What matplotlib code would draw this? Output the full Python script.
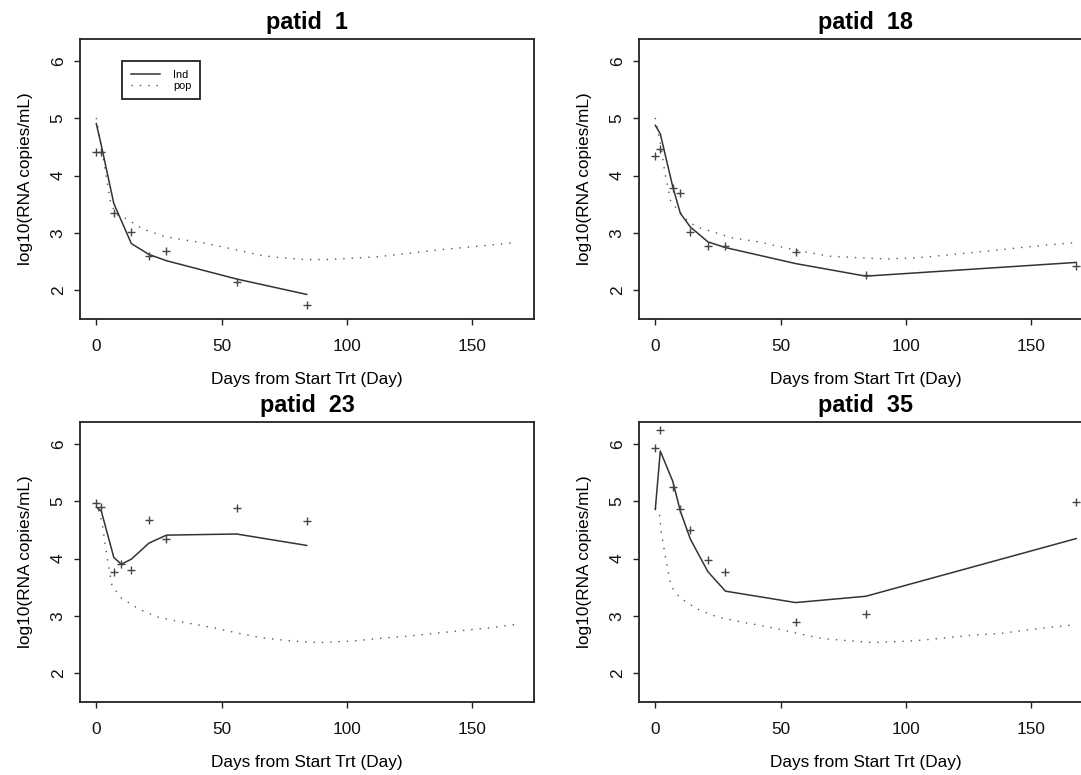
import numpy as np
import matplotlib.pyplot as plt

plt.rcParams['font.family'] = ['Liberation Sans', 'DejaVu Sans']

# observed values (+), individual fit (solid) and population fit (dotted)
p1_days = [0, 2, 7, 14, 21, 28, 56, 84]
p1_obs = [4.41, 4.41, 3.34, 3.01, 2.60, 2.68, 2.14, 1.74]
p1_ind = [4.91, 4.53, 3.51, 2.81, 2.62, 2.51, 2.19, 1.92]
p1_pop_t = [0, 2.9, 4.3, 5.6, 7.6, 12.2, 16.9, 19.5, 27.5, 44.1, 58.1, 66.1,
            72.1, 83.4, 92.0, 100.7, 112.0, 123.3, 134.6, 151.2, 163.2, 168]
p1_pop = [5.01, 4.27, 3.89, 3.56, 3.33, 3.24, 3.11, 3.05, 2.93, 2.81, 2.68, 2.60,
          2.57, 2.53, 2.53, 2.55, 2.58, 2.63, 2.69, 2.76, 2.81, 2.83]

p18_days = [0, 2, 7, 10, 14, 21, 28, 56, 84, 168]
p18_obs = [4.34, 4.46, 3.79, 3.70, 3.01, 2.76, 2.76, 2.66, 2.26, 2.42]
p18_ind = [4.88, 4.73, 3.80, 3.34, 3.10, 2.84, 2.74, 2.46, 2.24, 2.48]
p18_pop_t = [0, 2.3, 3.9, 6.2, 12.6, 16.6, 21.9, 30.6, 41.3, 47.3, 57.9, 69.3,
             77.9, 91.9, 103.9, 111.9, 125.9, 135.3, 145.9, 157.9, 163.3, 168]
p18_pop = [5.01, 4.50, 4.03, 3.54, 3.22, 3.10, 3.03, 2.91, 2.84, 2.78, 2.68, 2.59,
           2.57, 2.54, 2.56, 2.59, 2.65, 2.69, 2.74, 2.79, 2.81, 2.83]

p23_days = [0, 2, 7, 10, 14, 21, 28, 56, 84]
p23_obs = [4.97, 4.90, 3.77, 3.90, 3.80, 4.68, 4.34, 4.89, 4.66]
p23_ind = [4.90, 4.83, 4.02, 3.90, 3.99, 4.27, 4.41, 4.43, 4.23]
p23_pop_t = [0, 2.3, 4.3, 6.3, 10.0, 16.9, 24.2, 32.8, 46.8, 58.1, 66.8, 77.4,
             89.4, 103.3, 114.6, 123.9, 134.6, 143.9, 157.2, 166.2, 168]
p23_pop = [4.99, 4.63, 4.02, 3.52, 3.31, 3.12, 2.98, 2.90, 2.79, 2.68, 2.61, 2.56,
           2.53, 2.56, 2.61, 2.64, 2.69, 2.73, 2.79, 2.84, 2.85]

p35_days = [0, 2, 7, 10, 14, 21, 28, 56, 84, 168]
p35_obs = [5.94, 6.25, 5.26, 4.86, 4.50, 3.97, 3.77, 2.89, 3.03, 4.99]
p35_ind = [4.86, 5.88, 5.35, 4.83, 4.34, 3.77, 3.43, 3.23, 3.34, 4.35]
p35_pop_t = [0, 1.7, 2.3, 3.3, 4.2, 6.2, 9.9, 16.6, 24.6, 33.3, 41.9, 49.9,
             57.9, 66.6, 77.9, 86.6, 103.3, 115.3, 126.6, 137.9, 149.9, 167.0]
p35_pop = [4.89, 4.77, 4.48, 4.22, 3.99, 3.52, 3.31, 3.12, 2.98, 2.90, 2.83, 2.76,
           2.68, 2.60, 2.56, 2.53, 2.56, 2.61, 2.66, 2.69, 2.76, 2.84]

patids = [1, 18, 23, 35]
x_ticks = [0, 50, 100, 150]
y_ticks = [2, 3, 4, 5, 6]

panels = {
    1: (p1_days, p1_obs, p1_ind, p1_pop_t, p1_pop),
    18: (p18_days, p18_obs, p18_ind, p18_pop_t, p18_pop),
    23: (p23_days, p23_obs, p23_ind, p23_pop_t, p23_pop),
    35: (p35_days, p35_obs, p35_ind, p35_pop_t, p35_pop),
}

W, H = 1081, 775
fig = plt.figure(figsize=(W / 100, H / 100), dpi=100)
# left / top of each plot box in pixels
corners = {1: (80, 39), 18: (639, 39), 23: (80, 422), 35: (639, 422)}
aw, ah = 454, 280

for pid in patids:
    days, obs, ind, pop_t, pop = panels[pid]
    x0, y0 = corners[pid]
    ax = fig.add_axes([x0 / W, 1 - (y0 + ah) / H, aw / W, ah / H])
    l_pop, = ax.plot(pop_t, pop, color='#555555', lw=1.0, linestyle=(0, (1, 5)))
    l_ind, = ax.plot(days, ind, color='#333333', lw=1.1)
    ax.plot(days, obs, '+', color='#444444', ms=6, mew=1.0)

    ax.set_xlim(-6.5, 174.7)
    ax.set_ylim(1.49, 6.39)
    ax.set_xticks(x_ticks)
    ax.set_yticks(y_ticks)
    ax.tick_params(direction='out', length=4.3, width=1.0, color='#222222',
                   labelsize=12.4, labelcolor='#111111')
    ax.tick_params(axis='x', pad=10)
    ax.tick_params(axis='y', pad=6)
    for lab in ax.get_yticklabels():
        lab.set_rotation(90)
        lab.set_va('center')
    for sp in ax.spines.values():
        sp.set_linewidth(1.3)
        sp.set_color('#222222')

    ax.set_title(f'patid  {pid}', fontweight='bold', fontsize=16.8, pad=7)
    ax.set_xlabel('Days from Start Trt (Day)', fontsize=12.4, labelpad=13)
    ax.set_ylabel('log10(RNA copies/mL)', fontsize=12.4, labelpad=13)

    if pid == 1:
        leg = ax.legend([l_ind, l_pop], ['Ind', 'pop'], loc='upper left',
                        bbox_to_anchor=((122 - 80) / aw, 1 - (61 - 39) / ah),
                        borderaxespad=0, fontsize=7.8, handlelength=2.7,
                        handletextpad=1.2, borderpad=0.8, labelspacing=0.1,
                        fancybox=False, framealpha=1, edgecolor='#222222')
        leg.get_frame().set_linewidth(1.3)

fig.savefig('out.png', dpi=100)
